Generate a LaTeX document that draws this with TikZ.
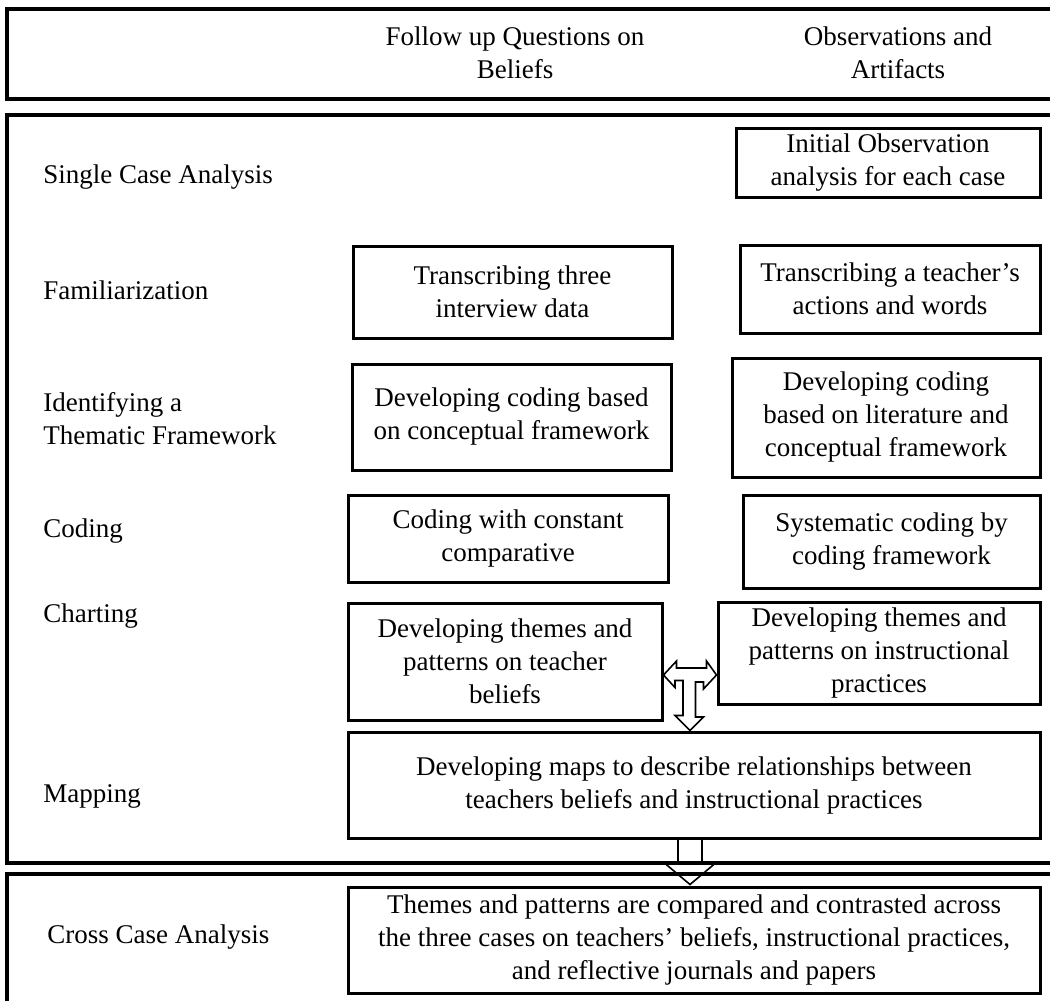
\documentclass[tikz,border=0pt]{standalone}
\usepackage{fontspec}
\setmainfont{Liberation Serif}
\usetikzlibrary{calc}

\tikzset{
  outerbox/.style={draw, line width=2pt},
  stepbox/.style={draw, line width=1.5pt, align=center, inner sep=0pt},
  lbl/.style={anchor=west, align=left, inner sep=0pt},
  blockarrow/.style={draw, line width=0.8pt, line join=miter}
}

\begin{document}
\begin{tikzpicture}[x=0.5pt, y=-0.5pt, font=\fontsize{13.5}{16.5}\selectfont]
        % --- Canvas ---
        \useasboundingbox (0,0) rectangle (1050,1001);
        \clip (0,0) rectangle (1050,1001);
        \fill[white] (0,0) rectangle (1050,1001);
        % --- Outer frames ---
        \draw[outerbox] (7,9) rectangle (1060,99);
        \draw[outerbox] (7,115) rectangle (1060,863);
        \draw[outerbox] (7,874) rectangle (1060,1010);
        % --- Column headers ---
        \node (hfq) at (515,53) [align=center] {Follow up Questions on\\Beliefs};
        \node (hoa) at (898,53) [align=center] {Observations and\\Artifacts};
        % --- Stage labels ---
        \node[lbl] (sca) at (43,177) {Single Case Analysis};
        \node[lbl] (fam) at (43,290) {Familiarization};
        \node[lbl] (itf) at (43,419) {Identifying a\\Thematic Framework};
        \node[lbl] (cdg) at (43,531) {Coding};
        \node[lbl] (chr) at (43,616) {Charting};
        \node[lbl] (mpg) at (43,796) {Mapping};
        \node[lbl] (cca) at (47,937) {Cross Case Analysis};
        % --- Step boxes ---
        \node[stepbox, minimum width=152pt, minimum height=34.5pt] (init) at (888,162.5) {Initial Observation\\analysis for each case};
        \node[stepbox, minimum width=159.5pt, minimum height=46pt] (trint) at (512.5,292) {Transcribing three\\interview data};
        \node[stepbox, minimum width=150pt, minimum height=44pt] (trobs) at (890,289) {Transcribing a teacher’s\\actions and words};
        \node[stepbox, minimum width=159.5pt, minimum height=53pt] (dvint) at (511.5,417) {Developing coding based\\on conceptual framework};
        \node[stepbox, minimum width=154pt, minimum height=59.5pt] (dvobs) at (886,417.5) {Developing coding\\based on literature and\\conceptual framework};
        \node[stepbox, minimum width=160pt, minimum height=43.5pt] (cdint) at (508,538.5) {Coding with constant\\comparative};
        \node[stepbox, minimum width=148.5pt, minimum height=46.5pt] (cdobs) at (891.5,541.5) {Systematic coding by\\coding framework};
        \node[stepbox, minimum width=157pt, minimum height=58.5pt] (thint) at (505,661.5) {Developing themes and\\patterns on teacher\\beliefs};
        \node[stepbox, minimum width=161pt, minimum height=51pt] (thobs) at (879,653) {Developing themes and\\patterns on instructional\\practices};
        \node[stepbox, minimum width=346pt, minimum height=53pt] (map) at (694,785) {Developing maps to describe relationships between\\teachers beliefs and instructional practices};
        \node[stepbox, minimum width=346pt, minimum height=53pt] (cross) at (694,940) {Themes and patterns are compared and contrasted across\\the three cases on teachers’ beliefs, instructional practices,\\and reflective journals and papers};
        % --- T arrow between themes and down to map ---
        \coordinate (hy) at (0,675);
        \coordinate (bx) at (690,0);
        \draw[blockarrow, fill=white] (thint.east |- hy) -- ++(13,-14) -- ++(0,7) -- ++(30,0) -- ++(0,-7)
            -- (thobs.west |- hy) -- ++(-13,14) -- ++(0,-7) -- ++(-8,0) -- ++(0,35) -- ++(8,0)
            -- (map.north -| bx) -- ++(-15,-15) -- ++(8,0) -- ++(0,-35) -- ++(-8,0) -- ++(0,7) -- cycle;
        % --- Block arrow down to cross case ---
        \draw[blockarrow] ($(map.south -| bx)+(-12,0)$) -- ++(0,24) -- ++(-13,0) -- ++(25,21)
            -- ++(25,-21) -- ++(-13,0) -- ++(0,-24);
\end{tikzpicture}
\end{document}
